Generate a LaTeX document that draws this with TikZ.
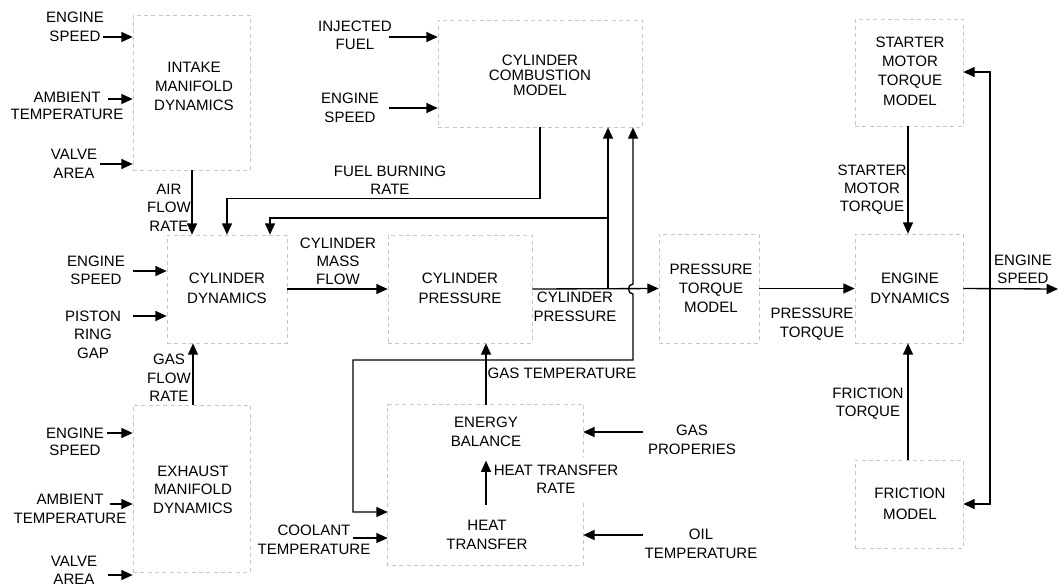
\documentclass[tikz,border=0pt]{standalone}
\usepackage{fontspec}
\setmainfont{Liberation Sans}
\usetikzlibrary{arrows.meta,fit,calc}
\begin{document}
\begin{tikzpicture}[x=0.75pt,y=-0.75pt,
  blk/.style={draw=black!22, dash pattern=on 3pt off 2.5pt, line width=0.5pt, inner sep=0pt, fit={#1}},
  hid/.style={inner sep=0pt, fit={#1}},
  edge/.style={draw=black!22, dash pattern=on 3pt off 2.5pt, line width=0.5pt},
  lbl/.style={align=center, inner sep=0pt, font=\fontsize{11.3}{#1}\selectfont},
  lbl/.default=14.25,
  ln/.style={line width=1pt},
  arr/.style={ln, -{Triangle[length=8.5pt,width=7.5pt]}},
  arrb/.style={ln, {Triangle[length=8.5pt,width=7.5pt]}-{Triangle[length=8.5pt,width=7.5pt]}},
]
\useasboundingbox (0,0) rectangle (1059,587);

% ---------- blocks ----------
\node[blk={(133,15) (250,170)}] (intake) {};
\node[blk={(438,20) (642,127)}] (comb) {};
\node[blk={(855,19) (963,126)}] (starter) {};
\node[blk={(167,235) (287,343)}] (cyldyn) {};
\node[blk={(388,235) (532,343)}] (cylpr) {};
\node[blk={(659,234) (759,343)}] (ptm) {};
\node[blk={(855,234) (963,343)}] (engdyn) {};
\node[blk={(133,405) (250,572)}] (exh) {};
\node[hid={(388,405) (583,565)}] (heat) {};
\node[blk={(855,460) (963,548)}] (fric) {};
\draw[edge] (heat.north east) -- ++(0,52);
\draw[edge] ($(heat.south east)+(0,-62)$) -- (heat.south east) -- (heat.south west) -- (heat.north west) -- (heat.north east);

% ---------- texts ----------
\node[lbl] (es1) at (75,27) {ENGINE\\SPEED};
\node[lbl=12.75] (amb1) at (67,105.5) {AMBIENT\\TEMPERATURE};
\node[lbl] (va1) at (74,163.5) {VALVE\\AREA};
\node[lbl] (intxt) at (194,86) {INTAKE\\MANIFOLD\\DYNAMICS};
\node[lbl=13.5] (inj) at (355,35) {INJECTED\\FUEL};
\node[lbl] (es2) at (350,107.5) {ENGINE\\SPEED};
\node[lbl=11.25] (combtxt) at (540,75.5) {CYLINDER\\COMBUSTION\\MODEL};
\node[lbl=13.5] (fbr) at (390,180) {FUEL BURNING\\RATE};
\node[lbl=13.9] (afr) at (169,207.5) {AIR\\FLOW\\RATE};
\node[lbl=13.5] (es3) at (96,270) {ENGINE\\SPEED};
\node[lbl=13.9] (prg) at (93,334.5) {PISTON\\RING\\GAP};
\node[lbl=13.9] (gfr) at (169,378) {GAS\\FLOW\\RATE};
\node[lbl=15] (cdtxt) at (227,288) {CYLINDER\\DYNAMICS};
\node[lbl=13.5] (cmf) at (338,261) {CYLINDER\\MASS\\FLOW};
\node[lbl=15] (cptxt) at (460,288) {CYLINDER\\PRESSURE};
\node[lbl] (cp2) at (575,306.5) {CYLINDER\\PRESSURE};
\node[lbl] (gt) at (562,373) {GAS TEMPERATURE};
\node[lbl] (ptmtxt) at (711,288) {PRESSURE\\TORQUE\\MODEL};
\node[lbl] (pt) at (812,324.5) {PRESSURE\\TORQUE};
\node[lbl=15] (edtxt) at (910,288) {ENGINE\\DYNAMICS};
\node[lbl=13.5] (es4) at (1023,269) {ENGINE\\SPEED};
\node[lbl=14.5] (smtm) at (910,71) {STARTER\\MOTOR\\TORQUE\\MODEL};
\node[lbl=13.5] (smt) at (872,190) {STARTER\\MOTOR\\TORQUE};
\node[lbl=13.5] (ft) at (868,404) {FRICTION\\TORQUE};
\node[lbl=15.75] (fm) at (910,503.5) {FRICTION\\MODEL};
\node[lbl] (eb) at (486,431.5) {ENERGY\\BALANCE};
\node[lbl=13.5] (htr) at (556,479) {HEAT TRANSFER\\RATE};
\node[lbl] (ht) at (487,534.5) {HEAT\\TRANSFER};
\node[lbl] (gp) at (692,439.5) {GAS\\PROPERIES};
\node[lbl] (oil) at (701,543.5) {OIL\\TEMPERATURE};
\node[lbl=12.75] (es5) at (75,441.5) {ENGINE\\SPEED};
\node[lbl=13.9] (exhtxt) at (193,489.5) {EXHAUST\\MANIFOLD\\DYNAMICS};
\node[lbl] (amb2) at (70,508.5) {AMBIENT\\TEMPERATURE};
\node[lbl=13.5] (va2) at (74,570) {VALVE\\AREA};
\node[lbl] (cool) at (314,539.5) {COOLANT\\TEMPERATURE};

% ---------- free ends ----------
\coordinate (i1) at (103,37);
\coordinate (i2) at (108,99);
\coordinate (i3) at (100,164);
\coordinate (i4) at (133,271);
\coordinate (i5) at (133,316);
\coordinate (i6) at (389,37);
\coordinate (i7) at (389,108);
\coordinate (i8) at (643,432);
\coordinate (i9) at (643,535);
\coordinate (i10) at (353,538);
\coordinate (i11) at (107,433);
\coordinate (i12) at (110,504);
\coordinate (i13) at (108,575);
\coordinate (j2) at (608,218);
\coordinate (eout) at (1058,289);

% ---------- connectors ----------
\draw[arr] (i1) -- (intake.west |- i1);
\draw[arr] (i2) -- (intake.west |- i2);
\draw[arr] (i3) -- (intake.west |- i3);
\draw[arr] (intake.south -| 192,0) -- (cyldyn.north -| 192,0);
\draw[arr] (comb.south -| 540,0) -- ++(0,71) -| (cyldyn.north -| 227,0);
\draw[arr] (cylpr.east -| 608,0) -- (comb.south -| 608,0);
\draw[arr] (j2) -| (cyldyn.north -| 270,0);
\draw[arr] (cylpr.east) -- (ptm.west);
\draw[arr] (heat.north -| 486,0) -- (cylpr.south -| 486,0);
\draw[arrb] (heat.west |- 0,512) -| (353,360) -- (633,360) -- (633,294)
   .. controls (627,294) and (627,284) .. (633,284) -- (comb.south -| 633,0);
\draw[arr] (cyldyn.east) -- (cylpr.west);
\draw[arr] (i4) -- (cyldyn.west |- i4);
\draw[arr] (i5) -- (cyldyn.west |- i5);
\draw[arr] (exh.north -| 193,0) -- (cyldyn.south -| 193,0);
\draw[arr] (i6) -- (comb.west |- i6);
\draw[arr] (i7) -- (comb.west |- i7);
\draw[arr] (ptm.east) -- (engdyn.west);
\draw[arr] (engdyn.east) -- (eout);
\draw[arrb] (starter.east |- 0,72) -- (990,72) -- (990,504) -- (fric.east |- 0,504);
\draw[arr] (starter.south -| 908,0) -- (engdyn.north -| 908,0);
\draw[arr] (fric.north -| 908,0) -- (engdyn.south -| 908,0);
\draw[arr] (i8) -- (heat.east |- i8);
\draw[arr] (i9) -- (heat.east |- i9);
\draw[arr] (i10) -- (heat.west |- i10);
\draw[arr] ($(ht.north)+(-1,-14.5)$) -- ($(eb.south)+(0,14)$);
\draw[arr] (i11) -- (exh.west |- i11);
\draw[arr] (i12) -- (exh.west |- i12);
\draw[arr] (i13) -- (exh.west |- i13);
\end{tikzpicture}
\end{document}
